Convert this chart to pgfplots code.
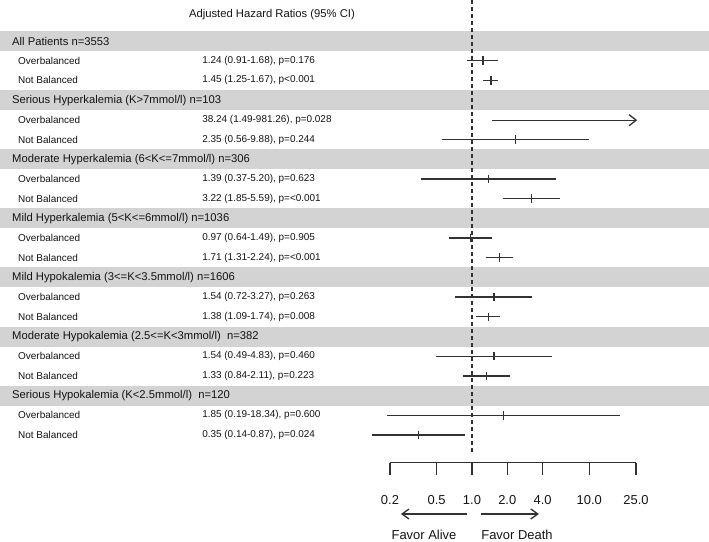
\documentclass[border=0pt]{standalone}
\usepackage{pgfplots}
\pgfplotsset{compat=1.18}
\usepackage{fontspec}
\setmainfont{Liberation Sans}
\usetikzlibrary{arrows.meta}
\definecolor{band}{RGB}{211,211,211}
\definecolor{ln}{RGB}{50,50,50}
\definecolor{tx}{RGB}{20,20,20}
\newcommand{\rowfont}{\fontsize{10}{11}\selectfont}
\newcommand{\grpfont}{\fontsize{11.3}{13}\selectfont}
\newcommand{\bigfont}{\fontsize{13}{15}\selectfont}
% text node: rel-x, pixel-y, text, font
\newcommand{\txt}[4]{\node[anchor=west,inner sep=0pt,text=tx,font=#4] at ({rel axis cs:#1,0}|-{axis cs:1,#2}) {#3};}
\begin{document}
\begin{tikzpicture}
\begin{axis}[
  width=709bp, height=542bp, scale only axis,
  xmode=log, xmin=9.48e-5, xmax=104.8,
  ymin=0, ymax=542, y dir=reverse,
  axis lines=none, clip=false,
  ci/.style={color=ln, line width=1.35pt, mark=none},
]
\coordinate (BL) at (rel axis cs:0,0);
\coordinate (TR) at (rel axis cs:1,1);
% gray header bands
\foreach \yc in {41,100.1,159.2,218.3,277.4,336.5,395.6}{
  \edef\tmp{\noexpand\fill[band] (axis cs:9.48e-5,\yc-10) rectangle (axis cs:104.8,\yc+10);}
  \tmp
}
% reference line at HR = 1
\addplot[color=ln, line width=1.2pt, dash pattern=on 4bp off 3bp] coordinates {(1,0) (1,455)};
% confidence intervals and point estimates: lo/hr/hi/y
\foreach \lo/\hr/\hi/\y in {
  0.91/1.24/1.68/60.7, 1.25/1.45/1.67/80.4,
  0.56/2.35/9.88/139.5,
  0.37/1.39/5.20/178.9, 1.85/3.22/5.59/198.6,
  0.64/0.97/1.49/238.0, 1.31/1.71/2.24/257.7,
  0.72/1.54/3.27/297.1, 1.09/1.38/1.74/316.8,
  0.49/1.54/4.83/356.2, 0.84/1.33/2.11/375.9,
  0.19/1.85/18.34/415.3, 0.14/0.35/0.87/435.0}{
  \edef\tmp{\noexpand\addplot[ci] coordinates {(\lo,\y) (\hi,\y)};
    \noexpand\addplot[color=ln, line width=1.35pt, only marks, mark=|, mark size=4.3pt] coordinates {(\hr,\y)};}
  \tmp
}
% truncated interval 38.24 (1.49-981.26)
\addplot[ci, -{Straight Barb[length=7bp,width=11bp,line width=1.3pt]}] coordinates {(1.49,120.2) (25.6,120.2)};
% bottom scale
\addplot[ci] coordinates {(0.2,462.5) (25,462.5)};
\foreach \t/\l in {0.2/0.2,0.5/0.5,1/1.0,2/2.0,4/4.0,10/10.0,25/25.0}{
  \edef\tmp{\noexpand\addplot[ci] coordinates {(\t,462.5) (\t,475)};
    \noexpand\node[text=tx,font=\noexpand\bigfont,inner sep=0pt] at (axis cs:\t,500) {\l};}
  \tmp
}
\addplot[ci, -{Straight Barb[length=7bp,width=10bp,line width=1.3pt]}] coordinates {(0.906,514) (0.248,514)};
\addplot[ci, -{Straight Barb[length=7bp,width=10bp,line width=1.3pt]}] coordinates {(1.193,514) (3.72,514)};
\node[text=tx,font=\bigfont,inner sep=0pt] at (axis cs:0.39,535) {Favor Alive};
\node[text=tx,font=\bigfont,inner sep=0pt] at (axis cs:2.42,535) {Favor Death};
% title
\node[text=tx,font=\grpfont,inner sep=0pt] at ({rel axis cs:0.3836,0}|-{axis cs:1,15}) {Adjusted Hazard Ratios (95\% CI)};
% group labels
\txt{0.0169}{41}{All Patients n=3553}{\grpfont}
\txt{0.0169}{100.1}{Serious Hyperkalemia (K>7mmol/l) n=103}{\grpfont}
\txt{0.0169}{159.2}{Moderate Hyperkalemia (6<K<=7mmol/l) n=306}{\grpfont}
\txt{0.0169}{218.3}{Mild Hyperkalemia (5<K<=6mmol/l) n=1036}{\grpfont}
\txt{0.0169}{277.4}{Mild Hypokalemia (3<=K<3.5mmol/l) n=1606}{\grpfont}
\txt{0.0169}{336.5}{Moderate Hypokalemia (2.5<=K<3mmol/l)\ \ n=382}{\grpfont}
\txt{0.0169}{395.6}{Serious Hypokalemia (K<2.5mmol/l)\ \ n=120}{\grpfont}
% row labels and values
\foreach \y/\lab/\val in {
  60.7/Overbalanced/{1.24 (0.91-1.68), p=0.176},
  80.4/Not Balanced/{1.45 (1.25-1.67), p<0.001},
  120.2/Overbalanced/{38.24 (1.49-981.26), p=0.028},
  139.5/Not Balanced/{2.35 (0.56-9.88), p=0.244},
  178.9/Overbalanced/{1.39 (0.37-5.20), p=0.623},
  198.6/Not Balanced/{3.22 (1.85-5.59), p=<0.001},
  238.0/Overbalanced/{0.97 (0.64-1.49), p=0.905},
  257.7/Not Balanced/{1.71 (1.31-2.24), p=<0.001},
  297.1/Overbalanced/{1.54 (0.72-3.27), p=0.263},
  316.8/Not Balanced/{1.38 (1.09-1.74), p=0.008},
  356.2/Overbalanced/{1.54 (0.49-4.83), p=0.460},
  375.9/Not Balanced/{1.33 (0.84-2.11), p=0.223},
  415.3/Overbalanced/{1.85 (0.19-18.34), p=0.600},
  435.0/Not Balanced/{0.35 (0.14-0.87), p=0.024}}{
  \edef\tmp{\noexpand\txt{0.0254}{\y}{\lab}{\noexpand\rowfont}
    \noexpand\txt{0.285}{\y}{\val}{\noexpand\rowfont}}
  \tmp
}
\end{axis}
\pgfresetboundingbox
\path (BL) rectangle (TR);
\end{tikzpicture}
\end{document}
